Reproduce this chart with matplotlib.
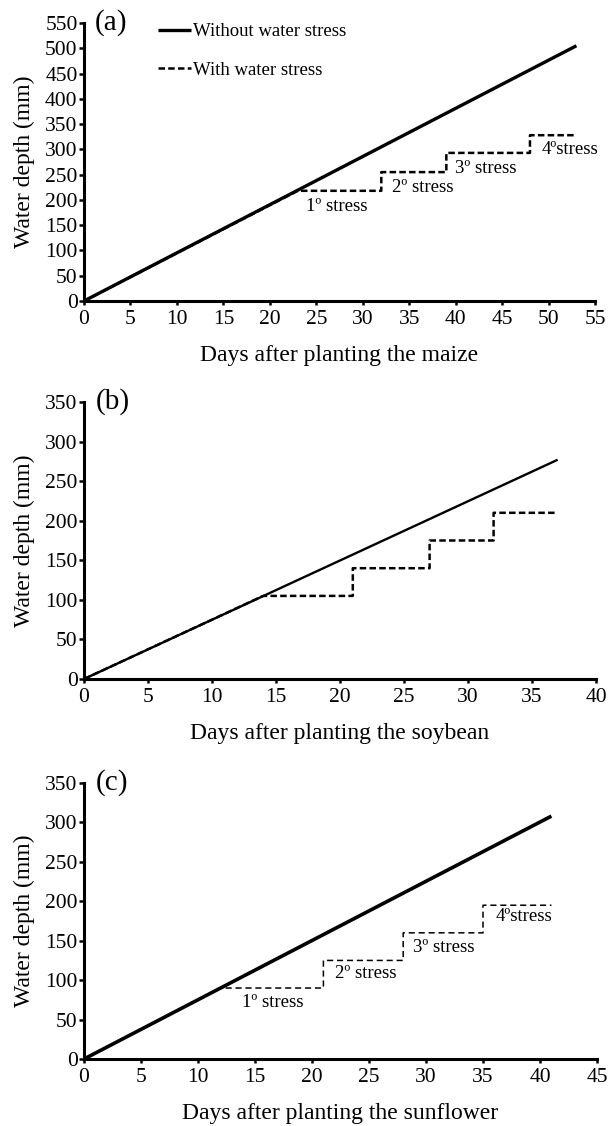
import matplotlib
matplotlib.use("Agg")
import matplotlib.pyplot as plt

plt.rcParams['font.family'] = ['Liberation Serif', 'DejaVu Serif']
plt.rcParams['mathtext.fontset'] = 'stix'

# ---------------- data ----------------
# (a) maize
maize_full_x = [0, 53]
maize_full_y = [0, 505]
maize_stress_x = [0, 23, 32, 32, 39, 39, 48, 48, 53]
maize_stress_y = [0, 218, 218, 255, 255, 293, 293, 328, 328]
maize_labels = ["1º stress", "2º stress", "3º stress", "4ºstress"]
maize_label_pos = [(23.9, 186), (33.2, 225), (39.9, 263), (49.3, 299)]

# (b) soybean
soy_full_x = [0, 37]
soy_full_y = [0, 277]
soy_stress_x = [0, 14, 21, 21, 27, 27, 32, 32, 37]
soy_stress_y = [0, 105, 105, 140, 140, 175, 175, 210, 210]

# (c) sunflower
sun_full_x = [0, 41]
sun_full_y = [0, 308]
sun_stress_x = [0, 12, 21, 21, 28, 28, 35, 35, 41]
sun_stress_y = [0, 90, 90, 125, 125, 160, 160, 195, 195]
sun_labels = ["1º stress", "2º stress", "3º stress", "4ºstress"]
sun_label_pos = [(13.9, 72), (22.0, 109), (28.9, 142), (36.1, 181)]

legend_labels = ["Without water stress", "With water stress"]
xlabels = ["Days after planting the maize",
           "Days after planting the soybean",
           "Days after planting the sunflower"]
ylabel = "Water depth (mm)"
panel_tags = ["(a)", "(b)", "(c)"]

# ---------------- figure ----------------
W, H = 609, 1126
fig = plt.figure(figsize=(W / 100, H / 100), dpi=100)


def make_axes(left, right, top, bottom):
    return fig.add_axes([left / W, (H - bottom) / H, (right - left) / W, (bottom - top) / H])


ax_a = make_axes(84, 595, 23, 301)
ax_b = make_axes(84, 596, 402, 679)
ax_c = make_axes(84, 597, 783, 1059)


def style(ax, xmax, ymax, xstep, ystep, xlabel, tag):
    ax.set_xlim(0, xmax)
    ax.set_ylim(0, ymax)
    ax.set_xticks(range(0, xmax + 1, xstep))
    ax.set_yticks(range(0, ymax + 1, ystep))
    for s in ['top', 'right']:
        ax.spines[s].set_visible(False)
    for s in ['left', 'bottom']:
        ax.spines[s].set_linewidth(2.2)
    ax.tick_params(axis='x', direction='out', length=3, width=1.8, pad=3.5, labelsize=15.5)
    ax.tick_params(axis='y', direction='out', length=3.6, width=1.8, pad=1, labelsize=15.5)
    ax.set_xlabel(xlabel, fontsize=17)
    ax.xaxis.set_label_coords(0.5, -0.16)
    ax.set_ylabel(ylabel, fontsize=17)
    ax.yaxis.set_label_coords(-0.095, 0.5)
    ax.text(0.022, 1.0, tag, transform=ax.transAxes, fontsize=21, ha='left', va='center')
    for lab in ax.get_xticklabels() + ax.get_yticklabels():
        lab.set_clip_on(False)


# (a)
l1, = ax_a.plot(maize_full_x, maize_full_y, color='black', lw=2.4, solid_capstyle='butt')
l2, = ax_a.plot(maize_stress_x, maize_stress_y, color='black', lw=1.8, dashes=(2.6, 1.3))
for t, (x, y) in zip(maize_labels, maize_label_pos):
    ax_a.text(x, y, t, fontsize=13.5, ha='left', va='center')
style(ax_a, 55, 550, 5, 50, xlabels[0], panel_tags[0])
leg = ax_a.legend([l1, l2], legend_labels, loc='upper left', bbox_to_anchor=(0.145, 1.0),
                  frameon=False, fontsize=13.5, handlelength=1.75, handletextpad=0.1,
                  labelspacing=1.15, borderpad=0.0, borderaxespad=0.0)

# (b)
ax_b.plot(soy_full_x, soy_full_y, color='black', lw=1.7, solid_capstyle='butt')
ax_b.plot(soy_stress_x, soy_stress_y, color='black', lw=1.8, dashes=(2.6, 1.3))
style(ax_b, 40, 350, 5, 50, xlabels[1], panel_tags[1])

# (c)
ax_c.plot(sun_full_x, sun_full_y, color='black', lw=2.6, solid_capstyle='butt')
ax_c.plot(sun_stress_x, sun_stress_y, color='black', lw=1.1, dashes=(4, 2.5))
for t, (x, y) in zip(sun_labels, sun_label_pos):
    ax_c.text(x, y, t, fontsize=13.5, ha='left', va='center')
style(ax_c, 45, 350, 5, 50, xlabels[2], panel_tags[2])

fig.savefig("out.png", dpi=100)
